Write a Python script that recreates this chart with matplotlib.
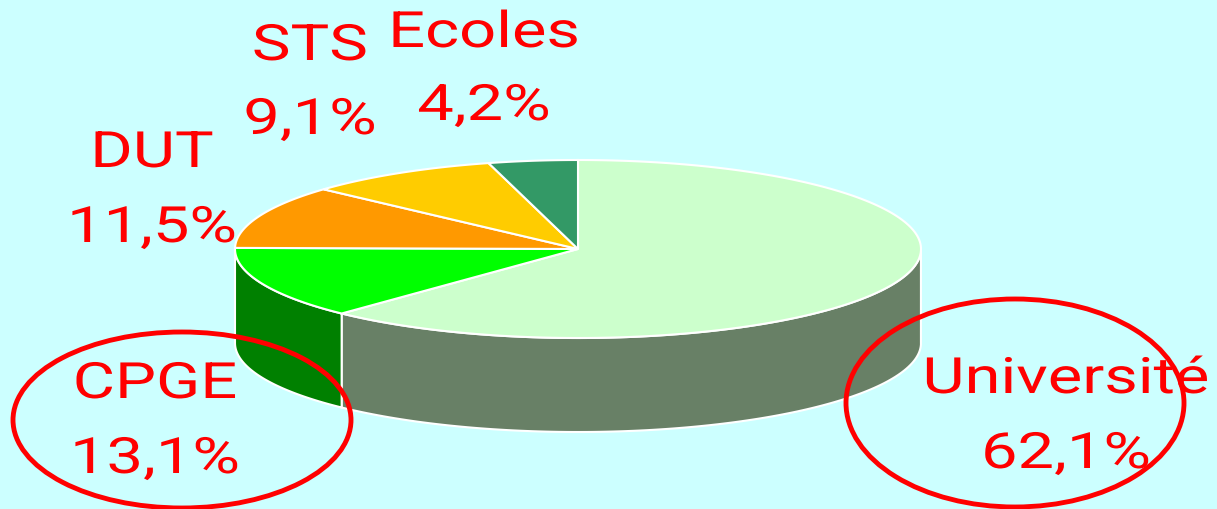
import numpy as np
import matplotlib
matplotlib.use("Agg")
import matplotlib.pyplot as plt
from matplotlib.patches import Ellipse
from matplotlib.patheffects import AbstractPathEffect
from matplotlib.transforms import Affine2D

labels = ["Université", "CPGE", "DUT", "STS", "Ecoles"]
values = [62.1, 13.1, 11.5, 9.1, 4.2]
value_labels = ["62,1%", "13,1%", "11,5%", "9,1%", "4,2%"]
top_colors = ["#CCFFCC", "#00FF00", "#FF9900", "#FFCC00", "#339966"]
side_colors = ["#688066", "#008000", "#804C00", "#806600", "#1A4D33"]

bg = "#CCFFFF"
cx, cy, rx, ry, depth = 578, 260, 343, 89, 94


# the labels in the original are wider than any installed font
class StretchX(AbstractPathEffect):
    def __init__(self, x0, sx):
        super().__init__()
        self.x0 = x0
        self.sx = sx

    def draw_path(self, renderer, gc, tpath, affine, rgbFace=None):
        t = affine + Affine2D().translate(-self.x0, 0).scale(self.sx, 1).translate(self.x0, 0)
        renderer.draw_path(gc, tpath, t, rgbFace)


fig = plt.figure(figsize=(12.17, 5.09), dpi=100, facecolor=bg)
ax = fig.add_axes([0, 0, 1, 1])
ax.set_xlim(0, 1217)
ax.set_ylim(0, 509)
ax.axis("off")

edges = 90 - np.cumsum([0] + values) * 3.6

# side walls first, only the front half shows
for i in range(len(values)):
    t = np.radians(np.linspace(edges[i], edges[i + 1], 200))
    t = t[np.sin(t) <= 0]
    if len(t) == 0:
        continue
    x = cx + rx * np.cos(t)
    y = cy + ry * np.sin(t)
    ax.fill(np.r_[x, x[::-1]], np.r_[y, y[::-1] - depth], color=side_colors[i],
            ec="white", lw=1.5, zorder=2)

for i in range(len(values)):
    t = np.radians(np.linspace(edges[i], edges[i + 1], 200))
    x = np.r_[cx, cx + rx * np.cos(t)]
    y = np.r_[cy, cy + ry * np.sin(t)]
    ax.fill(x, y, color=top_colors[i], ec="white", lw=1.5, zorder=3)

name_pos = [(1066, 130), (155, 125), (152, 356), (310, 463), (484, 476)]
val_pos = [(1066, 55), (155, 50), (152, 281), (310, 389), (484, 403)]
for i in range(len(labels)):
    for (px, py), s in ((name_pos[i], labels[i]), (val_pos[i], value_labels[i])):
        ax.text(px, py, s, color="red", fontsize=36, family="Roboto",
                ha="center", va="center", path_effects=[StretchX(px, 1.3)])

ax.add_patch(Ellipse((182, 89), 338, 176, fc="none", ec="red", lw=3.5, zorder=5))
ax.add_patch(Ellipse((1015, 106), 338, 208, fc="none", ec="red", lw=3.5, zorder=5))

fig.savefig("out.png", dpi=100, facecolor=bg)
